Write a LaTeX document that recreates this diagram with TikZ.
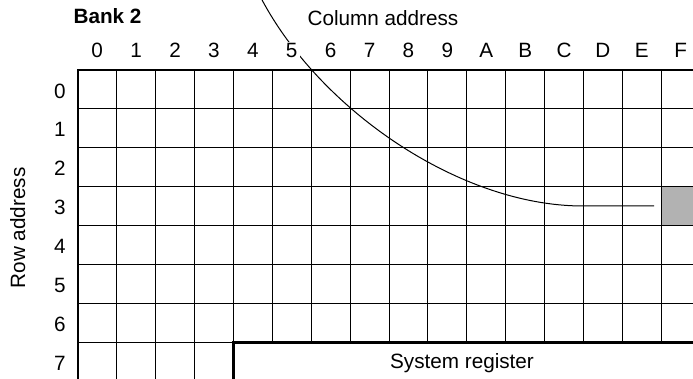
\documentclass[tikz,border=0pt]{standalone}
\usepackage{fontspec}
\setmainfont{Liberation Sans}
\begin{document}
\begin{tikzpicture}[x=1pt,y=-1pt,
  thinline/.style={line width=0.9pt,draw=black},
  thickline/.style={line width=2.4pt,draw=black,line cap=rect},
  lbl/.style={font=\fontsize{20.7}{24}\selectfont,inner sep=2pt},
  collbl/.style={lbl,anchor=base,fill=white},
  rowlbl/.style={lbl,anchor=center},
  curveline/.style={line width=1pt,draw=black}]
\useasboundingbox (0,0) rectangle (693,379);
\clip (0,0) rectangle (693,379);
\def\sx{38.9}
\def\xo{77.8}
\def\yo{70}
% shaded cell F,3
\node[fill=black!30,draw=none,minimum width=\sx pt,minimum height=\sx pt,inner sep=0pt,anchor=north west] (cellF3) at (\xo+15*\sx,\yo+3*\sx) {};
% thin vertical lines
\foreach \i in {1,2,3} \draw[thinline] (\xo+\i*\sx,\yo) -- (\xo+\i*\sx,390);
\foreach \i in {4,...,16} \draw[thinline] (\xo+\i*\sx,\yo) -- (\xo+\i*\sx,\yo+7*\sx);
% thin horizontal lines
\foreach \j in {1,...,6} \draw[thinline] (\xo,\yo+\j*\sx) -- (710,\yo+\j*\sx);
\draw[thinline] (\xo,\yo+7*\sx) -- (\xo+4*\sx,\yo+7*\sx);
% thick borders
\draw[thickline] (\xo,390) -- (\xo,\yo) -- (710,\yo);
\draw[thickline] (\xo+4*\sx,390) -- (\xo+4*\sx,\yo+7*\sx) -- (710,\yo+7*\sx);
% curve
\coordinate (cstart) at (261,-2);
\coordinate (cbend) at (583,206);
\coordinate (cend) at (654,206);
\draw[curveline] (cstart) .. controls (320,110) and (460,206) .. (cbend) -- (cend);
% column labels
\foreach \c [count=\i from 0] in {0,1,2,3,4,5,6,7,8,9,A,B,C,D,E,F}
  \node[collbl] (col\c) at (\xo+\i*\sx+0.5*\sx,58) {\c};
% row labels
\foreach \r in {0,...,7}
  \node[rowlbl] (row\r) at (60,\yo+\r*\sx+0.5*\sx+1.5) {\r};
\node[lbl,anchor=base,font=\fontsize{20.7}{24}\selectfont\bfseries] (bank) at (107.5,24) {Bank 2};
\node[lbl,anchor=base] (coladdr) at (383,25.5) {Column address};
\node[lbl,anchor=base,rotate=90] (rowaddr) at (25,228) {Row address};
\node[lbl,anchor=base] (sysreg) at (462,368) {System register};
\end{tikzpicture}
\end{document}
